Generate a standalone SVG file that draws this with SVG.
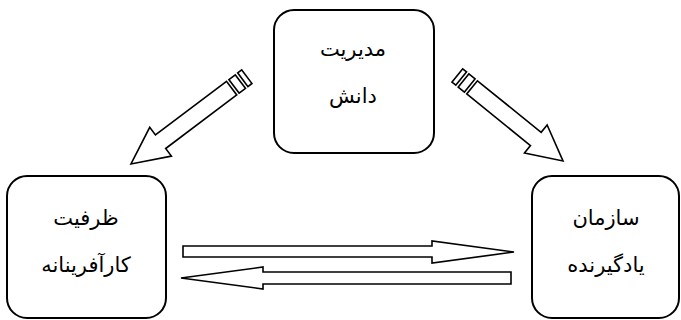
<svg xmlns="http://www.w3.org/2000/svg" width="681" height="320" viewBox="0 0 681 320">
<style>
.box{fill:#fff;stroke:#000;stroke-width:2}
.arr{fill:#fff;stroke:#000;stroke-width:1.6;stroke-linejoin:miter}
.t{font-family:"DejaVu Sans","Noto Sans",sans-serif;font-size:21px;fill:#000;text-anchor:middle}
</style>
<rect width="681" height="320" fill="#fff"/>
<g id="connectors">
<g transform="translate(131,164) rotate(143) translate(-145,0)">
<polygon class="arr" points="19,-8.5 108,-8.5 108,-18 145,0 108,18 108,8.5 19,8.5"/>
<rect class="arr" x="8" y="-8.5" width="8" height="17"/>
<rect class="arr" x="0" y="-8.5" width="5" height="17"/>
</g>
<g transform="translate(563,161) rotate(39) translate(-136,0)">
<polygon class="arr" points="19,-8.5 101,-8.5 101,-18 136,0 101,18 101,8.5 19,8.5"/>
<rect class="arr" x="8" y="-8.5" width="8" height="17"/>
<rect class="arr" x="0" y="-8.5" width="5" height="17"/>
</g>
<polygon class="arr" points="183,246 432,246 432,241 514,252 432,263 432,257 183,257"/>
<polygon class="arr" points="511,272 263,272 263,267 181,278 263,289 263,284 511,284"/>
</g>
<g id="node-knowledge">
<rect class="box" x="274" y="10" width="160" height="143" rx="20"/>
<text class="t" x="353" y="56" direction="rtl">مدیریت</text>
<text class="t" x="353" y="103" direction="rtl">دانش</text>
</g>
<g id="node-entrepreneurial">
<rect class="box" x="7" y="176" width="159" height="142" rx="20"/>
<text class="t" x="86" y="225" direction="rtl">ظرفیت</text>
<text class="t" x="86" y="272" direction="rtl">کارآفرینانه</text>
</g>
<g id="node-learning-org">
<rect class="box" x="532" y="176" width="147" height="142" rx="20"/>
<text class="t" x="606" y="225" direction="rtl">سازمان</text>
<text class="t" x="606" y="272" direction="rtl">یادگیرنده</text>
</g>
</svg>
